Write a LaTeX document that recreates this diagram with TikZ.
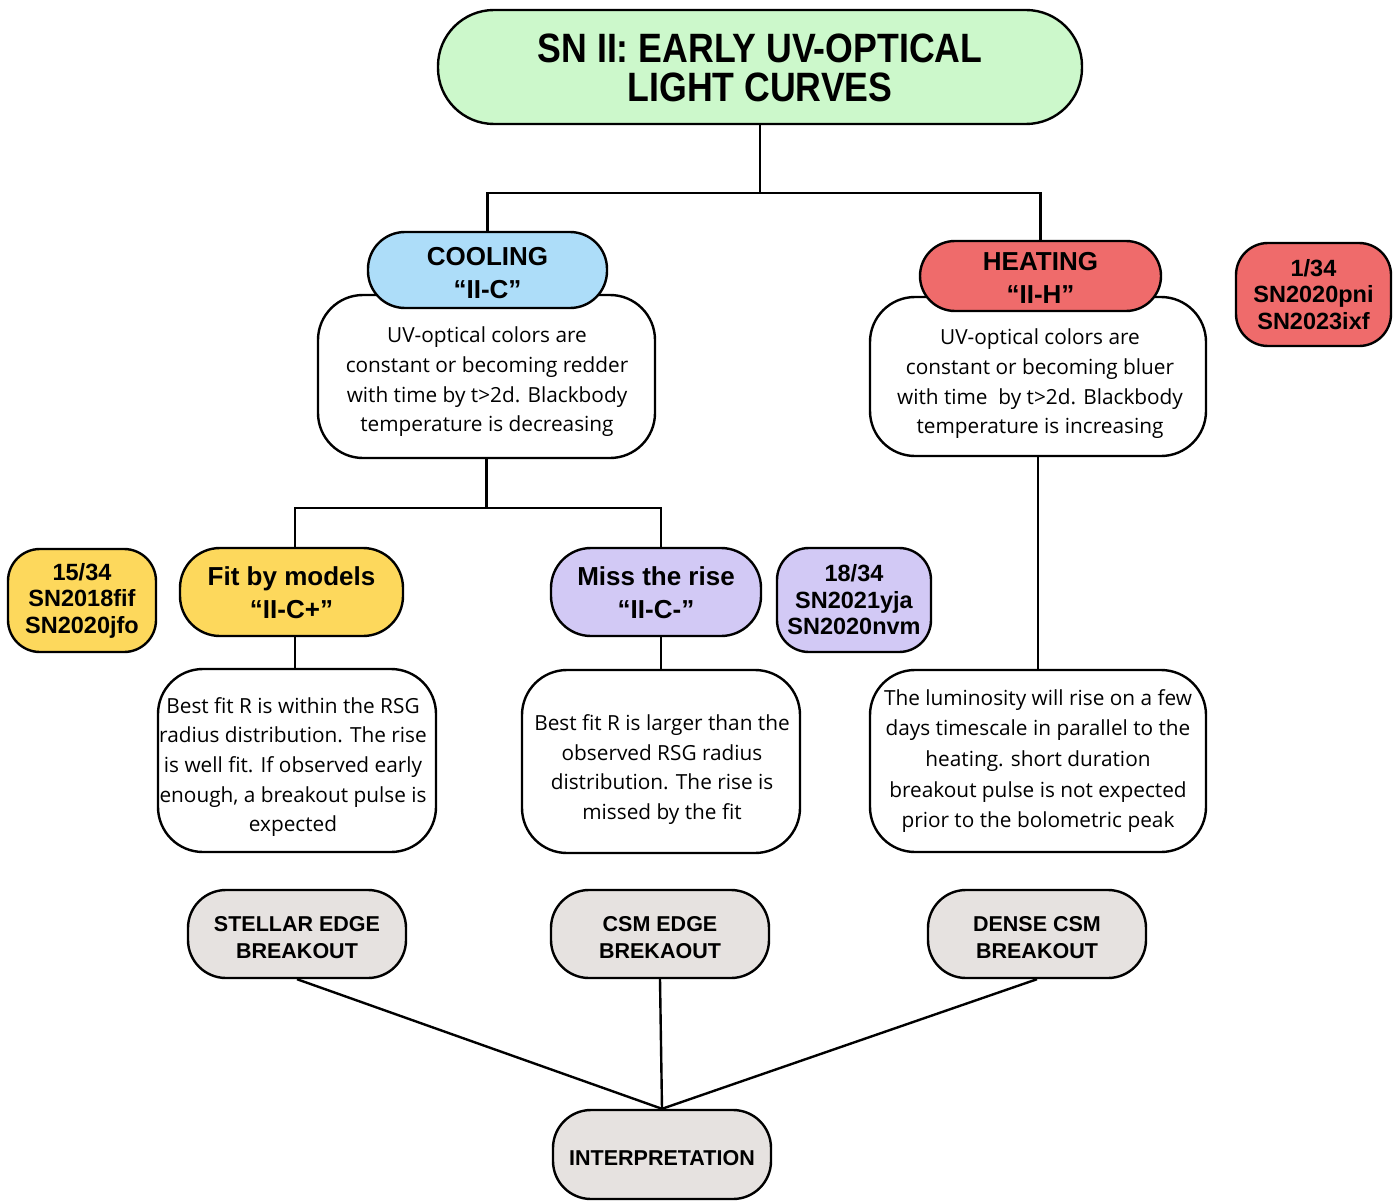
\documentclass[tikz,border=0pt]{standalone}
\usepackage{fontspec}
\setmainfont{Open Sans}
\newfontfamily\hfont{Liberation Sans}
\usetikzlibrary{calc}
\definecolor{cgreen}{HTML}{CCF8CB}
\definecolor{cblue}{HTML}{ADDDF9}
\definecolor{cred}{HTML}{EF6B6B}
\definecolor{cyellow}{HTML}{FDD85C}
\definecolor{cpurple}{HTML}{D2C9F5}
\definecolor{cgray}{HTML}{E6E2E0}
\tikzset{
  box/.style={draw=black, line width=2.4pt, inner sep=0pt, align=center, anchor=center},
  hdr/.style={box, font=\hfont\bfseries\fontsize{26}{33}\selectfont},
  cnt/.style={box, rounded corners=32pt, font=\hfont\bfseries\fontsize{23.5}{26.5}\selectfont},
  body/.style={box, fill=white, rounded corners=45pt},
  btext/.style={inner sep=0pt, align=center, font=\fontsize{20.8}{29.7}\selectfont},
  gbox/.style={box, fill=cgray, rounded corners=38pt, minimum width=218pt, minimum height=88pt, font=\hfont\bfseries\fontsize{21.5}{27}\selectfont},
  conn/.style={draw=black, line width=2.4pt},
}
\newcommand{\upstrut}[1]{\rule{0pt}{#1}}
\begin{document}
\begin{tikzpicture}[x=1pt,y=-1pt]
\useasboundingbox (0,0) rectangle (1400,1201);
% title
\node[box, fill=cgreen, rounded corners=56pt, minimum width=644pt, minimum height=114pt,
  font=\hfont\bfseries\fontsize{41}{39}\selectfont] (title) at (760,67)
  {\upstrut{31pt}\scalebox{0.87}[1]{SN II: EARLY UV-OPTICAL}\\\scalebox{0.87}[1]{LIGHT CURVES}};
% cooling
\node[body, minimum width=337pt, minimum height=163pt] (coolb) at (486.5,376.5) {};
\node[btext] (coolt) at (487,382)
  {UV-optical colors are\\constant or becoming redder\\with time by t>2d. Blackbody\\temperature is decreasing};
\node[hdr, fill=cblue, rounded corners=37pt, minimum width=239pt, minimum height=76pt] (coolh) at (487.5,270)
  {\upstrut{24.6pt}COOLING\\“II-C”};
% heating
\node[body, minimum width=336pt, minimum height=159pt] (heatb) at (1038,376.5) {};
\node[btext] (heatt) at (1040,384)
  {UV-optical colors are\\constant or becoming bluer\\with time\ \ by t>2d. Blackbody\\temperature is increasing};
\node[hdr, fill=cred, rounded corners=35pt, minimum width=241pt, minimum height=70pt] (heath) at (1040.5,276)
  {\upstrut{21.6pt}HEATING\\“II-H”};
\node[cnt, fill=cred, minimum width=155pt, minimum height=103pt] (redc) at (1313.5,294.5)
  {1/34\\SN2020pni\\SN2023ixf};
% fit
\node[hdr, fill=cyellow, rounded corners=40pt, minimum width=223pt, minimum height=88pt] (fith) at (291.5,592)
  {\upstrut{21pt}Fit by models\\“II-C+”};
\node[cnt, fill=cyellow, minimum width=148pt, minimum height=103pt] (yelc) at (82,600.5)
  {15/34\\SN2018fif\\SN2020jfo};
\node[body, minimum width=278pt, minimum height=183pt] (fitb) at (297,760.5) {};
\node[btext] (fitt) at (293,767)
  {Best fit R is within the RSG\\radius distribution. The rise\\is well fit. If observed early\\enough, a breakout pulse is\\expected};
% miss
\node[hdr, fill=cpurple, rounded corners=40pt, minimum width=210pt, minimum height=88pt] (missh) at (656,592)
  {\upstrut{21pt}Miss the rise\\“II-C-”};
\node[cnt, fill=cpurple, minimum width=154pt, minimum height=104pt] (purc) at (854,600)
  {18/34\\SN2021yja\\SN2020nvm};
\node[body, minimum width=278pt, minimum height=183pt] (missb) at (661,761.5) {};
\node[btext] (misst) at (662,769.5)
  {Best fit R is larger than the\\observed RSG radius\\distribution. The rise is\\missed by the fit};
% dense body
\node[body, minimum width=336pt, minimum height=182pt] (denseb) at (1038,761) {};
\node[btext, font=\fontsize{20.8}{30.7}\selectfont] (denset) at (1038,761)
  {The luminosity will rise on a few\\days timescale in parallel to the\\heating. short duration\\breakout pulse is not expected\\prior to the bolometric peak};
% breakouts
\node[gbox] (stel) at (297,934) {\upstrut{21.5pt}STELLAR EDGE\\BREAKOUT};
\node[gbox] (csm) at (660,934) {\upstrut{21.5pt}CSM EDGE\\BREKAOUT};
\node[gbox] (dense) at (1037,934) {\upstrut{21.5pt}DENSE CSM\\BREAKOUT};
\node[gbox, minimum height=89pt] (interp) at (662,1154.5) {\upstrut{22.5pt}INTERPRETATION};
% connectors
\coordinate (j1) at (760,193);
\coordinate (j2) at (486.5,508);
\draw[conn] (title.south) -- (j1);
\draw[conn] (j1) -| (coolh.north);
\draw[conn] (j1) -| (heath.north);
\draw[conn] (coolb.south) -- (j2);
\draw[conn] (j2) -| ([xshift=3.5pt]fith.north);
\draw[conn] (j2) -| (missb.north |- missh.north);
\draw[conn] ([xshift=3.5pt]fith.south) -- ([xshift=3.5pt]fith.south |- fitb.north);
\draw[conn] (missb.north |- missh.south) -- (missb.north);
\draw[conn] (heatb.south) -- (denseb.north);
\draw[conn] (stel.south) -- (interp.north);
\draw[conn] (csm.south) -- (interp.north);
\draw[conn] (dense.south) -- (interp.north);
\end{tikzpicture}
\end{document}
